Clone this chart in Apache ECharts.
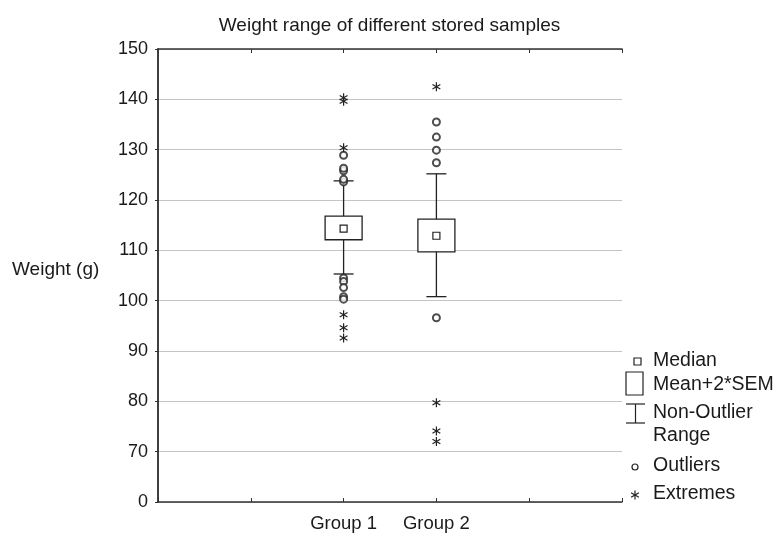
<!DOCTYPE html>
<html lang="en">
<head>
<meta charset="UTF-8">
<title>Weight range</title>
<script src="https://cdn.jsdelivr.net/npm/echarts@6/dist/echarts.min.js"></script>
<style>html,body{margin:0;padding:0;background:#fff}</style>
</head>
<body>
<div id="chart" style="width:779px;height:534px;"></div>
<script>
// groups sit at x = 2 and 3 on a 0..5 axis
var categories = ['Group 1', 'Group 2'];
var groupPos = [2, 3];
var boxLow = [112.1, 109.7];
var boxHigh = [116.8, 116.2];
var medians = [114.3, 112.9];
var whiskerLow = [105.3, 100.8];
var whiskerHigh = [123.8, 125.2];
var outliers1 = [123.6, 124.1, 125.8, 126.3, 128.9, 104.5, 103.8, 102.6, 100.8, 100.3];
var extremes1 = [130.4, 139.6, 140.3, 97.2, 94.6, 92.6];
var outliers2 = [127.4, 129.9, 132.5, 135.5, 96.6];
var extremes2 = [142.5, 79.7, 74.1, 72.0];
// the bottom tick (60) is printed as 0 on the original axis
var yTickLabels = {60: '0'};

var font = 'Liberation Sans, Arial, sans-serif';
var ink = '#1a1a1a';

var boxData = groupPos.map(function (x, i) { return [x, boxLow[i], boxHigh[i], medians[i]]; });
var whiskerData = groupPos.map(function (x, i) { return [x, whiskerLow[i], whiskerHigh[i]]; });
var outlierData = outliers1.map(function (v) { return [groupPos[0], v]; })
  .concat(outliers2.map(function (v) { return [groupPos[1], v]; }));
var extremeData = extremes1.map(function (v) { return [groupPos[0], v]; })
  .concat(extremes2.map(function (v) { return [groupPos[1], v]; }));

function asterisk(cx, cy, r, color) {
  var a = r * 0.87, b = r * 0.5;
  var st = {stroke: color, lineWidth: 1.2};
  return {
    type: 'group',
    children: [
      {type: 'line', shape: {x1: cx, y1: cy - r, x2: cx, y2: cy + r}, style: st},
      {type: 'line', shape: {x1: cx - a, y1: cy - b, x2: cx + a, y2: cy + b}, style: st},
      {type: 'line', shape: {x1: cx - a, y1: cy + b, x2: cx + a, y2: cy - b}, style: st}
    ]
  };
}

var chart = echarts.init(document.getElementById('chart'));
var option = {
  animation: false,
  title: {
    text: 'Weight range of different stored samples',
    left: 'center',
    top: 11,
    textStyle: {fontFamily: font, fontSize: 19, fontWeight: 'normal', color: ink}
  },
  grid: {left: 158, right: 157, top: 49, bottom: 32},
  xAxis: [{
    type: 'value', min: 0, max: 5, interval: 1,
    axisLine: {lineStyle: {color: '#333', width: 1.5}},
    axisTick: {inside: true, length: 4, lineStyle: {color: '#333'}},
    splitLine: {show: false},
    axisLabel: {
      fontFamily: font, fontSize: 18.5, color: ink, margin: 12,
      formatter: function (v) { var i = groupPos.indexOf(v); return i >= 0 ? categories[i] : ''; }
    }
  }, {
    type: 'value', min: 0, max: 5, interval: 1, position: 'top',
    axisLine: {lineStyle: {color: '#333', width: 1.5}},
    axisTick: {inside: true, length: 4, lineStyle: {color: '#333'}},
    axisLabel: {show: false}, splitLine: {show: false}
  }],
  yAxis: [{
    type: 'value', min: 60, max: 150, interval: 10,
    axisLine: {show: true, lineStyle: {color: '#333', width: 1.5}},
    axisTick: {show: true, length: 3, lineStyle: {color: '#333'}},
    splitLine: {lineStyle: {color: '#c4c4c4', width: 1}},
    axisLabel: {
      fontFamily: font, fontSize: 18, color: ink, margin: 10,
      formatter: function (v) { return yTickLabels[v] !== undefined ? yTickLabels[v] : String(v); }
    }
  }, {
    type: 'value', min: 60, max: 150, interval: 10, position: 'right',
    axisLine: {show: true, lineStyle: {color: '#333', width: 1.5}},
    axisTick: {show: false}, axisLabel: {show: false}, splitLine: {show: false}
  }],
  series: [{
    type: 'custom',
    data: whiskerData,
    renderItem: function (params, api) {
      var lo = api.coord([api.value(0), api.value(1)]);
      var hi = api.coord([api.value(0), api.value(2)]);
      var st = {stroke: '#222', lineWidth: 1.3};
      return {
        type: 'group',
        children: [
          {type: 'line', shape: {x1: lo[0], y1: lo[1], x2: hi[0], y2: hi[1]}, style: st},
          {type: 'line', shape: {x1: lo[0] - 10, y1: lo[1], x2: lo[0] + 10, y2: lo[1]}, style: st},
          {type: 'line', shape: {x1: hi[0] - 10, y1: hi[1], x2: hi[0] + 10, y2: hi[1]}, style: st}
        ]
      };
    }
  }, {
    type: 'custom',
    data: boxData,
    renderItem: function (params, api) {
      var lo = api.coord([api.value(0), api.value(1)]);
      var hi = api.coord([api.value(0), api.value(2)]);
      var md = api.coord([api.value(0), api.value(3)]);
      var w = 37;
      return {
        type: 'group',
        children: [
          {type: 'rect', shape: {x: lo[0] - w / 2, y: hi[1], width: w, height: lo[1] - hi[1]},
            style: {fill: '#fff', stroke: '#222', lineWidth: 1.3}},
          {type: 'rect', shape: {x: md[0] - 3.5, y: md[1] - 3.5, width: 7, height: 7},
            style: {fill: '#fff', stroke: '#222', lineWidth: 1.2}}
        ]
      };
    }
  }, {
    type: 'scatter',
    data: outlierData,
    symbol: 'emptyCircle',
    symbolSize: 7,
    itemStyle: {color: '#222', borderWidth: 1.3}
  }, {
    type: 'custom',
    data: extremeData,
    renderItem: function (params, api) {
      var p = api.coord([api.value(0), api.value(1)]);
      return asterisk(p[0], p[1], 4.5, '#222');
    }
  }],
  graphic: [
    {type: 'text', left: 12, top: 260, style: {text: 'Weight (g)', font: '19px ' + font, fill: ink}},
    // legend
    {type: 'rect', shape: {x: 634, y: 358, width: 7, height: 7}, style: {fill: '#fff', stroke: '#222', lineWidth: 1.2}},
    {type: 'text', x: 653, y: 361, style: {text: 'Median', font: '19.5px ' + font, fill: ink, verticalAlign: 'middle'}},
    {type: 'rect', shape: {x: 626, y: 372, width: 17, height: 23}, style: {fill: '#fff', stroke: '#222', lineWidth: 1.2}},
    {type: 'text', x: 653, y: 385, style: {text: 'Mean+2*SEM', font: '19.5px ' + font, fill: ink, verticalAlign: 'middle'}},
    {type: 'line', shape: {x1: 626, y1: 404, x2: 645, y2: 404}, style: {stroke: '#222', lineWidth: 1.2}},
    {type: 'line', shape: {x1: 635.5, y1: 404, x2: 635.5, y2: 423}, style: {stroke: '#222', lineWidth: 1.2}},
    {type: 'line', shape: {x1: 626, y1: 423, x2: 645, y2: 423}, style: {stroke: '#222', lineWidth: 1.2}},
    {type: 'text', x: 653, y: 413, style: {text: 'Non-Outlier', font: '19.5px ' + font, fill: ink, verticalAlign: 'middle'}},
    {type: 'text', x: 653, y: 436, style: {text: 'Range', font: '19.5px ' + font, fill: ink, verticalAlign: 'middle'}},
    {type: 'circle', shape: {cx: 635, cy: 467, r: 3}, style: {fill: '#fff', stroke: '#222', lineWidth: 1.2}},
    {type: 'text', x: 653, y: 466, style: {text: 'Outliers', font: '19.5px ' + font, fill: ink, verticalAlign: 'middle'}},
    {type: 'group', children: [asterisk(635, 495, 4.5, '#222')]},
    {type: 'text', x: 653, y: 494, style: {text: 'Extremes', font: '19.5px ' + font, fill: ink, verticalAlign: 'middle'}}
  ]
};
chart.setOption(option);
</script>
</body>
</html>
